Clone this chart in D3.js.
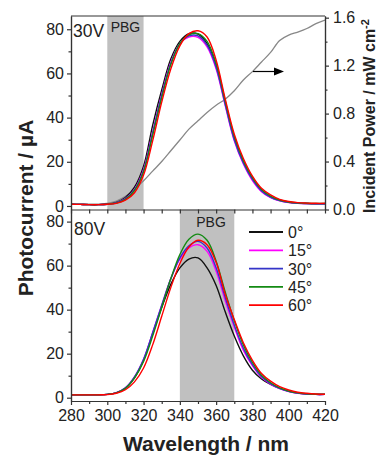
<!DOCTYPE html>
<html>
<head>
<meta charset="utf-8">
<script src="https://cdn.jsdelivr.net/npm/d3@7"></script>
<style>
body { margin: 0; background: #fff; }
svg text { font-family: "Liberation Sans", Arial, sans-serif; fill: #222; }
.axis path, .axis line { stroke: #333; stroke-width: 1.2; }
.axis text { font-size: 16px; }
</style>
</head>
<body>
<svg id="chart" width="378" height="457"></svg>
<script>
// wavelength grid (nm)
const wavelength = [280,285,290,295,300,305,310,315,320,325,330,335,340,345,350,355,360,365,370,375,380,385,390,395,400,405,410,415,420];

// 30V panel, photocurrent (uA) per angle
const pc30_0  = [0.8,0.7,0.6,0.6,0.8,1.6,3.8,8.5,18,36.5,52.5,66.5,74.5,78,77.8,73.5,63.5,47,31,20,12,7,4,2.5,1.7,1.3,1.1,1,1];
const pc30_15 = [0.8,0.7,0.6,0.6,0.8,1.4,3.3,7.5,16.5,33.5,50.5,65,73.5,76.5,76.3,72,62,45.5,29.5,19,11.5,6.5,3.8,2.3,1.5,1.2,1.1,1,1];
const pc30_30 = [0.8,0.7,0.6,0.6,0.8,1.4,3.2,7.3,16,33,50,64.5,73.5,77,77,72.8,62.8,46,30,19.5,12,6.8,4,2.4,1.6,1.2,1.1,1,1];
const pc30_45 = [0.8,0.7,0.6,0.6,0.8,1.3,3,7,15.5,32,49,64,73.5,77.5,78,74.5,64.5,47.5,31.5,20.5,12.8,7.5,4.5,2.7,1.8,1.4,1.2,1.1,1.1];
const pc30_60 = [0.8,0.7,0.6,0.6,0.8,1.2,2.6,6,14,29.5,47,62,72.5,78,79.3,76.5,66,48.5,32.5,21.5,13.5,8,5,3,2,1.5,1.3,1.2,1.2];

// 80V panel, photocurrent (uA) per angle
const pc80_0  = [1.3,1.3,1.3,1.3,1.5,2.2,4.2,9,17,29,41,51.5,59,63,63.5,59,51,39,28,19,12.5,8.5,6,4.2,2.9,2.1,1.7,1.5,1.5];
const pc80_15 = [1.3,1.3,1.3,1.3,1.5,2.3,4.5,9.5,17.5,29.5,42,54,63,68,69.5,66.5,57.5,44,32,21.5,14.5,9.3,6.2,4.1,2.8,2,1.7,1.5,1.5];
const pc80_30 = [1.3,1.3,1.3,1.3,1.5,2.3,4.5,9.5,17.5,29.5,42,54,63.5,69,71,68,59,45.5,33,22.5,15,9.6,6.4,4.2,2.9,2.1,1.7,1.5,1.5];
const pc80_45 = [1.3,1.3,1.3,1.3,1.5,2.2,4.3,9,16.5,28,41,54,65,72,74.3,71.5,62,48,35,24,16,10.2,6.8,4.5,3,2.2,1.8,1.6,1.6];
const pc80_60 = [1.3,1.3,1.3,1.3,1.4,2,3.6,7.2,13.5,24,37,50,61,68.5,71.5,69.5,61.5,47,35.5,25,17,11,7.5,5,3.5,2.5,2,1.7,1.6];

// incident power (mW cm-2), right axis of 30V panel
const power = [0.045,0.045,0.045,0.045,0.05,0.07,0.11,0.17,0.24,0.32,0.40,0.49,0.58,0.67,0.74,0.81,0.87,0.92,0.99,1.08,1.15,1.23,1.31,1.41,1.455,1.48,1.51,1.55,1.58];

const angleLabels = ["0°","15°","30°","45°","60°"];
const angleColors = ["#111111","#ff00ff","#3535c8","#138a13","#ff0000"];
const pbg30 = [300, 320]; // photonic band gap band, 30V
const pbg80 = [340, 370]; // photonic band gap band, 80V

const xTicks = [280,300,320,340,360,380,400,420];
const yTicks = [0,20,40,60,80];
const powerTicks = [0,0.4,0.8,1.2,1.6];

const svg = d3.select("#chart");
const left = 71, right = 325;
const top1 = 16, bot1 = 209.5, bot2 = 401;

const x = d3.scaleLinear().domain([280, 420]).range([left, right]);
const y30 = d3.scaleLinear().domain([-1.6, 86]).range([bot1, top1]);
const y80 = d3.scaleLinear().domain([-1.5, 85.5]).range([bot2, bot1]);
const yPow = d3.scaleLinear().domain([0, 1.614]).range([bot1, top1]);

function band(range, y0, y1) { // grey PBG rectangle
	svg.append("rect")
		.attr("x", x(range[0])).attr("y", y0)
		.attr("width", x(range[1]) - x(range[0])).attr("height", y1 - y0)
		.attr("fill", "#c0c0c0");
}
band(pbg30, top1, bot1);
band(pbg80, bot1, bot2);

// clip paths so curves stay inside their panel
const defs = svg.append("defs");
defs.append("clipPath").attr("id", "clip1").append("rect").attr("x", left).attr("y", top1).attr("width", right - left).attr("height", bot1 - top1);
defs.append("clipPath").attr("id", "clip2").append("rect").attr("x", left).attr("y", bot1).attr("width", right - left).attr("height", bot2 - bot1);

function drawCurve(values, yScale, color, width, clip) {
	let line = d3.line()
		.x((d, i) => x(wavelength[i]))
		.y(d => yScale(d))
		.curve(d3.curveCatmullRom);
	svg.append("path")
		.attr("clip-path", "url(#" + clip + ")")
		.attr("d", line(values))
		.attr("fill", "none")
		.attr("stroke", color)
		.attr("stroke-width", width);
}

drawCurve(power, yPow, "#888888", 1.3, "clip1");
[pc30_0, pc30_15, pc30_30, pc30_45, pc30_60].forEach((s, i) => drawCurve(s, y30, angleColors[i], 1.4, "clip1"));
[pc80_0, pc80_15, pc80_30, pc80_45, pc80_60].forEach((s, i) => drawCurve(s, y80, angleColors[i], 1.4, "clip2"));

// axes
function addAxis(axis, tx, ty) {
	return svg.append("g").attr("class", "axis").attr("transform", "translate(" + tx + "," + ty + ")").call(axis);
}
// top panel
addAxis(d3.axisLeft(y30).tickValues(yTicks).tickSize(4).tickSizeOuter(0).tickPadding(3), left, 0);
addAxis(d3.axisLeft(y30).tickValues([10,30,50,70]).tickSize(2.5).tickSizeOuter(0).tickFormat(""), left, 0);
addAxis(d3.axisRight(yPow).tickValues(powerTicks).tickSize(4).tickSizeOuter(0).tickPadding(4).tickFormat(d3.format(".1f")), right, 0);
addAxis(d3.axisRight(yPow).tickValues([0.2,0.6,1.0,1.4]).tickSize(2.5).tickSizeOuter(0).tickFormat(""), right, 0);
addAxis(d3.axisBottom(x).ticks(14).tickSize(4).tickSizeOuter(0).tickFormat(""), 0, bot1);
svg.append("line").attr("x1", left).attr("x2", right).attr("y1", top1).attr("y2", top1).attr("stroke", "#333").attr("stroke-width", 1.2);
// bottom panel
addAxis(d3.axisLeft(y80).tickValues(yTicks).tickSize(4).tickSizeOuter(0).tickPadding(3), left, 0);
addAxis(d3.axisLeft(y80).tickValues([10,30,50,70]).tickSize(2.5).tickSizeOuter(0).tickFormat(""), left, 0);
addAxis(d3.axisBottom(x).tickValues(xTicks).tickSize(4).tickSizeOuter(0).tickPadding(5), 0, bot2);
addAxis(d3.axisBottom(x).tickValues([290,310,330,350,370,390,410]).tickSize(3).tickSizeOuter(0).tickFormat(""), 0, bot2);

// panel labels
svg.append("text").attr("x", 73).attr("y", 37).attr("font-size", 17.5).text("30V");
svg.append("text").attr("x", 74).attr("y", 235).attr("font-size", 17.5).text("80V");
svg.append("text").attr("x", (x(pbg30[0]) + x(pbg30[1])) / 2).attr("y", 32).attr("font-size", 14).attr("text-anchor", "middle").text("PBG");
svg.append("text").attr("x", 211).attr("y", 227).attr("font-size", 14).attr("text-anchor", "middle").text("PBG");

// arrow pointing to the power axis
svg.append("line").attr("x1", 253).attr("x2", 276).attr("y1", 71.5).attr("y2", 71.5).attr("stroke", "#000").attr("stroke-width", 1.2);
svg.append("path").attr("d", "M274,67.5 L284,71.5 L274,75.5 Z").attr("fill", "#000");

// legend
const legend = svg.append("g").attr("transform", "translate(249,232)");
angleLabels.forEach((lab, i) => {
	let g = legend.append("g").attr("transform", "translate(0," + i * 18.3 + ")");
	g.append("line").attr("x1", 0).attr("x2", 34).attr("stroke", angleColors[i]).attr("stroke-width", 1.8);
	g.append("text").attr("x", 39).attr("y", 6).attr("font-size", 16).text(lab);
});

// axis titles
svg.append("text").attr("transform", "translate(33,208) rotate(-90)").attr("text-anchor", "middle")
	.attr("font-size", 21).attr("font-weight", "bold").attr("fill", "#111").text("Photocurrent / µA");
let rt = svg.append("text").attr("transform", "translate(375,116) rotate(-90)").attr("text-anchor", "middle")
	.attr("font-size", 16).attr("font-weight", "bold").attr("fill", "#111");
rt.append("tspan").text("Incident Power / mW cm");
rt.append("tspan").attr("font-size", 11).attr("dy", -6).text("-2");
svg.append("text").attr("x", 206).attr("y", 451).attr("text-anchor", "middle")
	.attr("font-size", 21).attr("font-weight", "bold").attr("fill", "#111").text("Wavelength / nm");
</script>
</body>
</html>
